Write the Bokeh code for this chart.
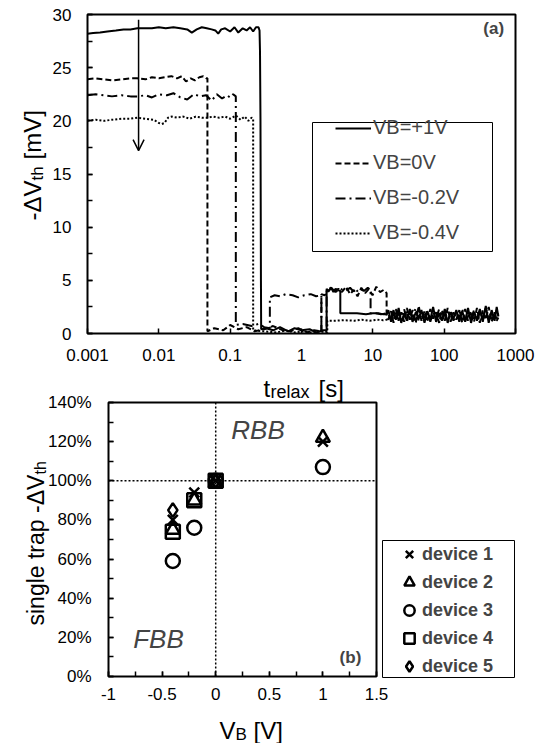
import math
from bokeh.plotting import figure
from bokeh.models import (Label, Legend, LegendItem, BoxAnnotation, Arrow, OpenHead,
                          FixedTicker, SingleIntervalTicker, LinearAxis, Range1d, LinearScale)
from bokeh.embed import file_html
from bokeh.resources import INLINE

FONT = "Liberation Sans"

# ---------------- panel (a) data: -dVth [mV] vs t_relax [s] ----------------
t_tail = [16.5, 18, 19.5, 21, 23, 25, 27.5, 30, 33, 36, 40, 44, 48, 53, 58, 64, 70, 77, 85, 93,
          102, 112, 123, 135, 148, 163, 179, 197, 216, 238, 262, 288, 316, 348, 383, 421, 463, 509, 545, 575]

t_p1 = [0.001, 0.0012, 0.0015, 0.0019, 0.0025, 0.0032, 0.004, 0.005, 0.0063, 0.008, 0.01, 0.0125,
        0.016, 0.02, 0.025, 0.029, 0.034, 0.04, 0.047, 0.055, 0.062, 0.068, 0.075, 0.085, 0.1, 0.115,
        0.13, 0.15, 0.17, 0.19, 0.21, 0.23, 0.25, 0.258, 0.262, 0.266, 0.27, 0.272,
        0.32, 0.4, 0.5, 0.65, 0.8, 1.0, 1.3, 1.6, 2.0, 2.25, 2.25, 2.4, 2.6, 2.8, 3.0, 3.2, 3.5, 3.5,
        4.5, 6, 8, 10, 12, 14, 15.6] + t_tail
v_p1 = [28.2, 28.25, 28.3, 28.4, 28.5, 28.6, 28.6, 28.7, 28.7, 28.7, 28.8, 28.7,
        28.8, 28.7, 28.6, 28.3, 28.6, 28.8, 28.7, 28.6, 28.5, 28.2, 28.6, 28.7, 28.4, 28.8,
        28.3, 28.7, 28.5, 28.8, 28.4, 28.8, 28.8, 28.5, 26.5, 20.0, 5.0, 0.4,
        0.5, 0.3, 0.6, 0.2, 0.5, 0.3, 0.4, 0.1, 0.3, 0.3, 4.2, 4.0, 4.3, 3.9, 4.2, 4.1, 4.0, 1.9,
        1.9, 1.9, 1.8, 1.9, 1.9, 1.8, 1.8] + [
        2.2, 1.1, 2.0, 1.3, 2.4, 1.0, 1.9, 1.2, 2.3, 1.1, 2.0, 1.4, 2.2, 1.0, 2.1, 1.3, 2.5, 1.1, 1.9, 1.2,
        2.3, 1.0, 2.0, 1.4, 2.2, 1.1, 2.1, 1.2, 2.4, 1.0, 2.0, 1.3, 2.3, 1.1, 2.6, 1.0, 2.2, 1.2, 2.5, 1.6]

t_0 = [0.001, 0.0013, 0.0017, 0.0022, 0.003, 0.004, 0.005, 0.0065, 0.008, 0.01, 0.012, 0.015, 0.018,
       0.021, 0.024, 0.028, 0.032, 0.037, 0.042, 0.046, 0.048, 0.048,
       0.06, 0.08, 0.1, 0.13, 0.17, 0.22, 0.3, 0.4, 0.55, 0.7, 0.9, 1.2, 1.5, 1.9, 1.9,
       2.1, 2.3, 2.6, 2.9, 3.3, 3.7, 4.2, 4.8, 5.4, 6.1, 6.9, 7.8, 8.8, 9.9, 11.2, 12.6, 14.2, 15.6, 15.6] + t_tail
v_0 = [23.9, 24.0, 23.9, 23.8, 23.9, 24.0, 24.0, 23.9, 24.1, 24.0, 24.1, 24.2, 24.0,
       24.2, 23.7, 24.0, 23.8, 24.1, 24.2, 24.0, 24.0, 0.2,
       0.5, 0.3, 0.8, 0.4, 0.6, 0.2, 0.4, 0.7, 0.3, 0.2, 0.5, 0.1, 0.3, 0.2, 3.7,
       3.6, 3.8, 4.3, 4.0, 4.2, 3.9, 4.4, 3.7, 4.1, 3.5, 4.3, 3.8, 4.2, 3.6, 4.4, 3.9, 4.1, 3.8, 1.6] + [
       1.3, 2.1, 1.0, 2.3, 1.2, 2.0, 1.1, 2.4, 1.3, 2.2, 1.0, 2.6, 1.2, 2.1, 1.1, 2.3, 1.4, 2.0, 1.0, 2.2,
       1.2, 2.4, 1.1, 2.0, 1.3, 2.2, 1.0, 2.3, 1.2, 2.1, 1.1, 2.4, 1.0, 2.2, 1.3, 2.5, 1.1, 2.0, 1.2, 1.5]

t_m02 = [0.001, 0.0013, 0.0017, 0.0022, 0.003, 0.004, 0.005, 0.0065, 0.008, 0.01, 0.013, 0.016, 0.02,
         0.025, 0.031, 0.038, 0.046, 0.055, 0.065, 0.077, 0.09, 0.1, 0.11, 0.12, 0.12,
         0.15, 0.2, 0.25, 0.3, 0.36, 0.36,
         0.42, 0.5, 0.6, 0.75, 0.9, 1.1, 1.35, 1.6, 1.9, 1.9, 2.1, 2.25, 2.25,
         2.6, 3.0, 3.5, 4.1, 4.8, 5.6, 6.5, 7.5, 8.5, 9.3, 9.3, 11, 13, 15.6] + t_tail
v_m02 = [22.4, 22.5, 22.4, 22.3, 22.4, 22.3, 22.3, 22.4, 22.2, 22.5, 22.4, 22.6, 22.2,
         22.0, 22.5, 22.3, 22.4, 21.9, 22.5, 22.1, 22.4, 22.2, 22.5, 22.3, 0.8,
         0.9, 0.7, 0.9, 0.6, 0.5, 3.4,
         3.6, 3.5, 3.7, 3.6, 3.4, 3.6, 3.7, 3.5, 3.6, 0.2, 0.3, 0.2, 4.1,
         4.3, 3.9, 4.2, 4.0, 4.3, 3.8, 4.2, 4.0, 4.3, 4.1, 1.9, 1.9, 1.8, 1.9] + [
         1.8, 1.4, 2.2, 1.2, 1.9, 1.5, 2.3, 1.1, 2.0, 1.6, 2.4, 1.2, 1.9, 1.5, 2.2, 1.1, 2.0, 1.4, 2.3, 1.3,
         1.8, 1.6, 2.2, 1.2, 2.0, 1.5, 2.3, 1.1, 1.9, 1.4, 2.2, 1.2, 2.0, 1.5, 2.4, 1.3, 1.9, 1.6, 2.2, 1.7]

t_m04 = [0.001, 0.0013, 0.0017, 0.0022, 0.003, 0.004, 0.005, 0.0065, 0.0085, 0.01, 0.011, 0.012,
         0.0135, 0.015, 0.018, 0.022, 0.027, 0.033, 0.04, 0.048, 0.058, 0.07, 0.085, 0.1, 0.12, 0.14,
         0.16, 0.18, 0.2, 0.21, 0.21,
         0.3, 0.45, 0.6, 0.8, 1.0, 1.4, 1.8, 2.3, 2.3,
         3, 4, 5.5, 7, 9, 11.5, 14, 15.6] + t_tail
v_m04 = [20.0, 20.1, 20.0, 20.1, 20.2, 20.2, 20.3, 20.2, 20.1, 19.8, 19.7, 19.8,
         20.3, 20.4, 20.3, 20.4, 20.2, 20.4, 20.3, 20.3, 20.4, 20.3, 20.4, 20.2, 20.5, 20.1,
         20.4, 20.0, 20.3, 20.2, 0.3,
         0.2, 0.1, 0.3, 0.1, 0.2, 0.1, 0.2, 0.1, 1.2,
         1.2, 1.25, 1.2, 1.3, 1.2, 1.3, 1.25, 1.3] + [
         1.4, 1.6, 1.3, 1.7, 1.4, 1.5, 1.3, 1.8, 1.4, 1.6, 1.2, 1.7, 1.5, 1.4, 1.6, 1.3, 1.7, 1.4, 1.5, 1.3,
         1.6, 1.4, 1.7, 1.3, 1.5, 1.4, 1.6, 1.3, 1.7, 1.5, 1.4, 1.6, 1.3, 1.5, 1.7, 1.4, 1.6, 1.3, 1.5, 1.4]

series_labels = ["VB=+1V", "VB=0V", "VB=-0.2V", "VB=-0.4V"]
x_ticks_a = [0.001, 0.01, 0.1, 1, 10, 100, 1000]
x_tick_labels_a = ["0.001", "0.01", "0.1", "1", "10", "100", "1000"]
arrow_t = 0.0052
arrow_from, arrow_to = 29.5, 17.2

# ---------------- panel (b) data: single trap -dVth [%] vs VB [V] ----------------
dev1_x = [-0.4, -0.2, 0, 1]
dev1_y = [80, 94, 100, 120]
dev2_x = [-0.4, -0.2, 0, 1]
dev2_y = [75, 90, 99, 122]
dev3_x = [-0.4, -0.2, 0, 1]
dev3_y = [59, 76, 100, 107]
dev4_x = [-0.4, -0.2, 0]
dev4_y = [74, 90, 100]
dev5_x = [-0.4, 0]
dev5_y = [85, 100]
device_labels = ["device 1", "device 2", "device 3", "device 4", "device 5"]
y_ticks_b = [0, 20, 40, 60, 80, 100, 120, 140]
y_tick_labels_b = ["0%", "20%", "40%", "60%", "80%", "100%", "120%", "140%"]
x_ticks_b = [-1, -0.5, 0, 0.5, 1, 1.5]
x_tick_labels_b = ["-1", "-0.5", "0", "0.5", "1", "1.5"]

# ---------------- layout (pixels on the 540x743 page) ----------------
W, H = 540, 743
A_LEFT, A_RIGHT, A_TOP, A_BOTTOM = 87, 515, 14, 333      # panel (a) box
B_LEFT, B_RIGHT, B_TOP, B_BOTTOM = 108, 376, 402, 676    # panel (b) box

dec = (A_RIGHT - A_LEFT) / 6.0
ax_lo = 10 ** (-3 - A_LEFT / dec)
ax_hi = 10 ** (3 + (W - A_RIGHT) / dec)
ppu_a = (A_BOTTOM - A_TOP) / 30.0
ay_hi = 30 + A_TOP / ppu_a
ay_lo = -(H - A_BOTTOM) / ppu_a

ppx_b = (B_RIGHT - B_LEFT) / 2.5
bx_lo = -1 - B_LEFT / ppx_b
bx_hi = 1.5 + (W - B_RIGHT) / ppx_b
ppy_b = (B_BOTTOM - B_TOP) / 140.0
by_hi = 140 + B_TOP / ppy_b
by_lo = -(H - B_BOTTOM) / ppy_b

p = figure(width=W, height=H, x_axis_type="log", x_range=Range1d(ax_lo, ax_hi),
           y_range=Range1d(ay_lo, ay_hi), output_backend="svg", toolbar_location=None,
           min_border_left=0, min_border_right=0, min_border_top=0, min_border_bottom=0)
p.extra_x_ranges = {"b": Range1d(bx_lo, bx_hi)}
p.extra_x_scales = {"b": LinearScale()}
p.extra_y_ranges = {"b": Range1d(by_lo, by_hi)}
p.xgrid.visible = False
p.ygrid.visible = False
p.outline_line_color = None
p.background_fill_color = "white"
p.border_fill_color = "white"


def style_axis(ax, standoff):
    ax.axis_line_color = None
    ax.major_tick_in = 5
    ax.major_tick_out = 0
    ax.minor_tick_in = 5
    ax.minor_tick_out = 0
    ax.major_tick_line_width = 1.5
    ax.minor_tick_line_width = 1.5
    ax.major_tick_line_color = "black"
    ax.minor_tick_line_color = "black"
    ax.major_label_text_font = FONT
    ax.major_label_text_font_size = "17px"
    ax.major_label_text_color = "black"
    ax.major_label_standoff = standoff
    ax.axis_label = None


# axes of panel (a)
xa = p.xaxis[0]
xa.ticker = FixedTicker(ticks=x_ticks_a)
xa.major_label_overrides = dict(zip(x_ticks_a, x_tick_labels_a))
xa.fixed_location = 0
xa.bounds = (0.001, 1000)
style_axis(xa, 15)
xa.minor_tick_line_color = None
ya = p.yaxis[0]
ya.ticker = SingleIntervalTicker(interval=5, num_minor_ticks=2)
ya.fixed_location = 0.001
ya.bounds = (0, 30)
style_axis(ya, 16)

# axes of panel (b)
xb = LinearAxis(x_range_name="b", y_range_name="b", fixed_location=0, bounds=(-1, 1.5),
                ticker=SingleIntervalTicker(interval=0.5, num_minor_ticks=2),
                major_label_overrides=dict(zip(x_ticks_b, x_tick_labels_b)))
style_axis(xb, 11)
p.add_layout(xb, "below")
yb = LinearAxis(x_range_name="b", y_range_name="b", fixed_location=-1, bounds=(0, 140),
                ticker=SingleIntervalTicker(interval=20, num_minor_ticks=2),
                major_label_overrides=dict(zip(y_ticks_b, y_tick_labels_b)))
style_axis(yb, 17)
p.add_layout(yb, "left")

# panel boxes
p.add_layout(BoxAnnotation(left=0.001, right=1000, bottom=0, top=30, fill_color=None, fill_alpha=0,
                           line_color="black", line_alpha=1.0, line_width=2))
p.add_layout(BoxAnnotation(left=-1, right=1.5, bottom=0, top=140, x_range_name="b", y_range_name="b",
                           fill_color=None, fill_alpha=0, line_color="black", line_alpha=1.0, line_width=2))

# ---- panel (a) traces ----
r1 = p.line(t_p1, v_p1, line_color="black", line_width=2)
r2 = p.line(t_0, v_0, line_color="black", line_width=2, line_dash="6 3")
r3 = p.line(t_m02, v_m02, line_color="black", line_width=2, line_dash="10 4 2 4")
r4 = p.line(t_m04, v_m04, line_color="black", line_width=2, line_dash="2 2")

p.add_layout(Arrow(end=OpenHead(size=11, line_width=1.5, line_color="black"),
                   x_start=arrow_t, y_start=arrow_from, x_end=arrow_t, y_end=arrow_to,
                   line_width=1.5, line_color="black"))

p.add_layout(BoxAnnotation(left=312, right=492, bottom=H - 251, top=H - 122,
                           left_units="screen", right_units="screen",
                           top_units="screen", bottom_units="screen",
                           fill_color="white", fill_alpha=1.0, line_color="black", line_alpha=1.0,
                           line_width=1))
leg1 = Legend(items=[LegendItem(label=l, renderers=[r]) for l, r in zip(series_labels, [r1, r2, r3, r4])],
              location=(335, H - 244), padding=0, margin=0, spacing=12, glyph_width=36, glyph_height=20,
              label_height=20, label_standoff=2, label_text_font=FONT, label_text_font_size="20px",
              border_line_alpha=0, background_fill_alpha=0)
p.add_layout(leg1, "center")

p.add_layout(Label(x=494, y=28.7, text="(a)", text_font=FONT, text_font_size="17px",
                   text_font_style="bold", text_align="center", text_baseline="middle"))

# ---- panel (b) markers ----
mk = dict(size=14, line_color="black", line_width=2.5, fill_color=None, x_range_name="b", y_range_name="b")
m1 = p.scatter(dev1_x, dev1_y, marker="x", **mk)
m2 = p.scatter(dev2_x, dev2_y, marker="triangle", **mk)
m3 = p.scatter(dev3_x, dev3_y, marker="circle", **mk)
m4 = p.scatter(dev4_x, dev4_y, marker="square", **mk)
m5 = p.scatter(dev5_x, dev5_y, marker="diamond", **mk)

p.add_layout(Arrow(end=None, x_start=0, y_start=0, x_end=0, y_end=140, x_range_name="b", y_range_name="b",
                   line_color="black", line_width=1.5, line_dash="2 2"))
p.add_layout(Arrow(end=None, x_start=-1, y_start=100, x_end=1.5, y_end=100, x_range_name="b",
                   y_range_name="b", line_color="black", line_width=1.5, line_dash="2 2"))

p.add_layout(BoxAnnotation(left=382, right=514, bottom=H - 677, top=H - 540,
                           left_units="screen", right_units="screen",
                           top_units="screen", bottom_units="screen",
                           fill_color="white", fill_alpha=1.0, line_color="black", line_alpha=1.0,
                           line_width=1))
leg2 = Legend(items=[LegendItem(label=l, renderers=[r]) for l, r in zip(device_labels, [m1, m2, m3, m4, m5])],
              location=(396, H - 680), padding=0, margin=0, spacing=0, glyph_width=26, glyph_height=28,
              label_height=20, label_standoff=0, label_text_font=FONT, label_text_font_size="18px",
              label_text_font_style="bold", border_line_alpha=0, background_fill_alpha=0)
p.add_layout(leg2, "center")

for txt, xx, yy in [("RBB", 0.395, 125.7), ("FBB", -0.534, 19.3)]:
    p.add_layout(Label(x=xx, y=yy, text=txt, x_range_name="b", y_range_name="b", text_font=FONT,
                       text_font_size="26px", text_font_style="italic", text_align="center",
                       text_baseline="middle"))
p.add_layout(Label(x=1.257, y=9.9, text="(b)", x_range_name="b", y_range_name="b", text_font=FONT,
                   text_font_size="17px", text_font_style="bold", text_align="center",
                   text_baseline="middle"))


# ---- axis titles with subscripts (page pixel positions, y measured from the top) ----
def add_text(x, y_top, text, size, angle=0.0):
    p.add_layout(Label(x=x, y=H - y_top, x_units="screen", y_units="screen", text=text, angle=angle,
                       text_font=FONT, text_font_size=size, text_color="black",
                       text_align="left", text_baseline="alphabetic"))


V = math.pi / 2
add_text(32, 220, "-ΔV", "24px", V)
add_text(37, 180, "th", "17px", V)
add_text(32, 159, "[mV]", "24px", V)
add_text(263, 388, "t", "24px")
add_text(270, 391.5, "relax", "18px")
add_text(318, 388, "[s]", "24px")

add_text(35, 625, "single trap -ΔV", "23px", V)
add_text(40, 474, "th", "16px", V)
add_text(219, 730, "V", "24px")
add_text(235, 734, "B", "17px")
add_text(253, 730, "[V]", "24px")

open("out.html", "w").write(file_html(p, INLINE))
